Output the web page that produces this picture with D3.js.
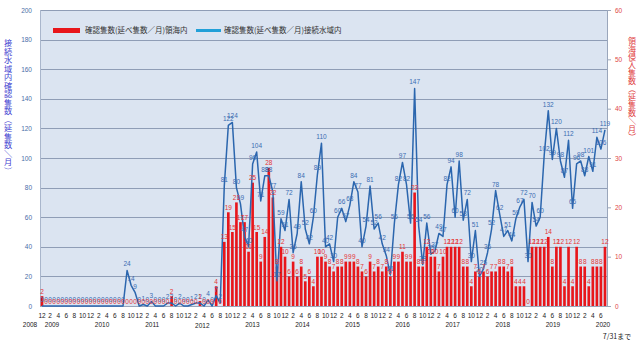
<!DOCTYPE html>
<html><head><meta charset="utf-8">
<script src="https://cdn.jsdelivr.net/npm/d3@7"></script>
<style>
html,body{margin:0;padding:0;background:#fff;}
svg{display:block;font-family:"Liberation Sans",Arial,sans-serif;}
.jp{font-family:"Noto Sans CJK JP","Noto Sans",sans-serif;}
</style></head>
<body><svg id="c" width="640" height="345"></svg>
<script>
// ---- data (Dec 2008 .. Jul 2020, one value per month) ----
const startYear = 2008, startMonth = 12;
const contiguous = [].concat(
  [0],
  [0,0,0,0,0,0,0,0,0,0,0,0],
  [0,0,0,0,0,0,0,0,24,14,9,0],
  [1,0,3,0,0,0,2,2,0,2,0,0],
  [1,2,2,0,4,0,7,2,81,122,124,80],
  [69,47,40,96,104,71,88,88,77,17,59,51],
  [72,36,49,84,52,42,60,89,110,40,42,30],
  [60,66,57,68,84,77,40,54,81,52,56,42],
  [34,21,56,82,97,82,56,147,54,28,56,35],
  [37,49,47,82,94,60,98,58,72,30,51,20],
  [25,36,52,78,62,47,51,44,59,67,72,30],
  [70,54,60,102,132,99,120,98,87,112,66,96],
  [98,88,101,91,114,106,119]
);
const territorial = [].concat(
  [2],
  [0,0,0,0,0,0,0,0,0,0,0,0],
  [0,0,0,0,0,0,0,0,0,0,0,0],
  [0,0,0,0,0,0,0,2,0,0,0,0],
  [0,0,1,0,0,0,4,0,13,19,15,21],
  [17,17,11,25,15,9,14,28,22,8,12,10],
  [6,9,6,8,5,6,4,10,10,9,8,7],
  [8,8,9,9,9,8,7,6,9,7,8,7],
  [8,6,9,9,11,9,9,23,8,8,12,10],
  [10,7,10,12,12,12,12,8,8,4,7,6],
  [7,6,7,7,8,8,7,8,4,4,4,0],
  [12,12,12,12,14,8,12,12,4,12,4,12],
  [8,8,4,8,8,8,12]
);
const years = [2009,2010,2011,2012,2013,2014,2015,2016,2017,2018,2019,2020];
const leftTicks = [0,20,40,60,80,100,120,140,160,180,200];
const rightTicks = [0,10,20,30,40,50,60];
const legendRed = "確認隻数(延べ隻数／月)領海内";
const legendBlue = "確認隻数(延べ隻数／月)接続水域内";
const titleLeft = "接続水域内確認隻数（延隻数／月）";
const titleRight = "領海侵入隻数（延隻数／月）";
const noteText = "7/31まで";

// months
const months = contiguous.map((_, i) => {
  const m0 = startMonth - 1 + i;
  return {i, year: startYear + Math.floor(m0 / 12), month: (m0 % 12) + 1};
});

const svg = d3.select("#c");
const L = 40, R = 607, T = 10, B = 306;

const x = d3.scaleBand().domain(months.map(d => d.i)).range([L, R])
  .paddingInner(0.35).paddingOuter(0.175);
const xc = i => x(i) + x.bandwidth() / 2;
const yL = d3.scaleLinear().domain([0, 200]).range([B, T]);
const yR = d3.scaleLinear().domain([0, 60]).range([B, T]);
const yearX = d3.scaleLinear().domain([2009, 2020]).range([52, 603]);

// plot background
svg.append("rect").attr("x", L).attr("y", T).attr("width", R - L).attr("height", B - T)
  .attr("fill", "#dbe4f1");

// gridlines
svg.append("g").selectAll("line").data(leftTicks.filter(v => v > 0)).join("line")
  .attr("x1", L).attr("x2", R)
  .attr("y1", d => Math.round(yL(d)) + 0.5).attr("y2", d => Math.round(yL(d)) + 0.5)
  .attr("stroke", "#8f9db6").attr("stroke-width", 1);

svg.append("line").attr("x1", L + 0.5).attr("x2", L + 0.5).attr("y1", T).attr("y2", B)
  .attr("stroke", "#a9b6cc");

// left axis labels
const axL = svg.append("g").attr("transform", `translate(${L},0)`)
  .call(d3.axisLeft(yL).tickValues(leftTicks).tickSize(0).tickPadding(8));
axL.select(".domain").remove();
axL.selectAll("text").attr("fill", "#4a6ea8").attr("font-size", 6.5)
  .attr("font-family", "Liberation Sans, Arial, sans-serif");

// right axis
const axR = svg.append("g").attr("transform", `translate(${R},0)`)
  .call(d3.axisRight(yR).tickValues(rightTicks).tickSize(4).tickPadding(4));
axR.select(".domain").attr("stroke", "#9aa6bb");
axR.selectAll("line").attr("stroke", "#9aa6bb");
axR.selectAll("text").attr("fill", "#e04848").attr("font-size", 6.5)
  .attr("font-family", "Liberation Sans, Arial, sans-serif");

svg.append("line").attr("x1", L).attr("x2", R).attr("y1", B + 0.5).attr("y2", B + 0.5)
  .attr("stroke", "#9aa6bb");

// bars (territorial sea)
svg.append("g").selectAll("rect").data(months).join("rect")
  .attr("x", d => x(d.i)).attr("width", x.bandwidth())
  .attr("y", d => yR(territorial[d.i]))
  .attr("height", d => B - yR(territorial[d.i]))
  .attr("fill", "#e8161b");

// line (contiguous zone)
const line = d3.line().x(d => xc(d.i)).y(d => yL(contiguous[d.i]));
svg.append("path").datum(months).attr("d", line)
  .attr("fill", "none").attr("stroke", "#2b66ae").attr("stroke-width", 1.5)
  .attr("stroke-linejoin", "round");

// data labels
svg.append("g").selectAll("text").data(months).join("text")
  .attr("x", d => xc(d.i)).attr("y", d => yL(contiguous[d.i]) - 4)
  .attr("text-anchor", "middle").attr("font-size", 6.5).attr("fill", "#3a6cb2")
  .text(d => contiguous[d.i]);
svg.append("g").selectAll("text").data(months).join("text")
  .attr("x", d => xc(d.i)).attr("y", d => yR(territorial[d.i]) - 2.5)
  .attr("text-anchor", "middle").attr("font-size", 6.5).attr("fill", "#e53535")
  .text(d => territorial[d.i]);

// month labels (every 2 months)
svg.append("g").selectAll("text").data(months.filter(d => d.i % 2 === 0)).join("text")
  .attr("x", d => xc(d.i)).attr("y", 318).attr("text-anchor", "middle")
  .attr("font-size", 6.5).attr("fill", "#222").text(d => d.month);

// year labels
svg.append("text").attr("x", 30).attr("y", 327).attr("text-anchor", "middle")
  .attr("font-size", 6.5).attr("fill", "#222").text(startYear);
svg.append("g").selectAll("text").data(years).join("text")
  .attr("x", d => yearX(d)).attr("y", d => d === 2012 ? 328 : 327).attr("text-anchor", "middle")
  .attr("font-size", 6.5).attr("fill", "#222").text(d => d);

svg.append("text").attr("class", "jp").attr("x", 617).attr("y", 339).attr("text-anchor", "middle")
  .attr("font-size", 7).attr("fill", "#222").text(noteText);

// legend
svg.append("rect").attr("x", 53).attr("y", 28).attr("width", 27).attr("height", 5).attr("fill", "#e8161b");
svg.append("text").attr("class", "jp").attr("x", 85).attr("y", 33).attr("font-size", 7.5)
  .attr("fill", "#333").text(legendRed);
svg.append("line").attr("x1", 196).attr("x2", 221).attr("y1", 30.5).attr("y2", 30.5)
  .attr("stroke", "#22a0d8").attr("stroke-width", 3);
svg.append("text").attr("class", "jp").attr("x", 224).attr("y", 33).attr("font-size", 7.5)
  .attr("fill", "#333").text(legendBlue);

// vertical axis titles: one text element, one tspan per glyph row
function verticalText(str, cx, y0, step, size, color) {
  const t = svg.append("text").attr("class", "jp").attr("font-size", size).attr("fill", color);
  Array.from(str).forEach((ch, k) => {
    const cy = y0 + k * step + step / 2;
    const rot = "（）／".includes(ch);
    const ts = t.append("tspan").text(ch);
    if (rot) {
      ts.attr("x", cx - 0.38 * size).attr("y", cy - size / 2).attr("rotate", 90);
    } else {
      ts.attr("x", cx - size / 2).attr("y", cy + 0.38 * size);
    }
  });
}
verticalText(titleLeft, 8, 39, 8.5, 8.2, "#3e3ed0");
verticalText(titleRight, 632, 37, 8.0, 8.0, "#e03a3a");
</script>
</body></html>
